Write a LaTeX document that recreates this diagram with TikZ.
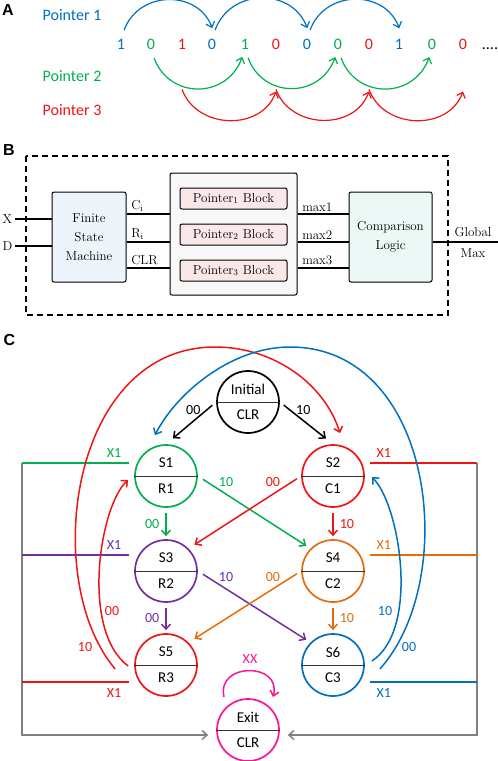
\documentclass[tikz,border=0pt]{standalone}
\usepackage{fontspec}
\newfontfamily\calib{Carlito}
\newfontfamily\panelfont{Liberation Sans}
\usetikzlibrary{arrows.meta}

\definecolor{pblue}{RGB}{0,112,192}
\definecolor{pgreen}{RGB}{0,176,80}
\definecolor{pred}{RGB}{240,20,20}
\definecolor{ppurple}{RGB}{112,48,160}
\definecolor{porange}{RGB}{228,108,10}
\definecolor{pmag}{RGB}{250,20,150}
\definecolor{fsmfill}{RGB}{238,244,251}
\definecolor{ptrfill}{RGB}{250,232,232}
\definecolor{cmpfill}{RGB}{235,248,245}
\definecolor{midfill}{RGB}{248,248,248}

\tikzset{
  panel/.style={font=\panelfont\fontsize{16}{16}\selectfont\bfseries, inner sep=0pt},
  digit/.style={font=\calib\fontsize{16}{16}\selectfont, inner sep=0pt},
  ptrlabel/.style={font=\calib\fontsize{16}{16}\selectfont, inner sep=0pt},
  seqarc/.style={line width=1.2pt, ->},
  blk/.style={draw, line width=1pt, rounded corners=2pt, align=center, font=\fontsize{13}{19}\selectfont},
  sig/.style={font=\fontsize{13}{13}\selectfont, inner sep=2pt},
  wire/.style={line width=1.5pt},
  st/.style={circle, draw, line width=1.7pt, minimum size=62pt, inner sep=0pt, fill=white},
  stxt/.style={font=\calib\fontsize{15}{15}\selectfont, inner sep=0pt},
  elab/.style={font=\calib\fontsize{14}{14}\selectfont, inner sep=1pt},
  tr/.style={->, line width=1.5pt},
}

\begin{document}
\begin{tikzpicture}[x=1pt, y=1pt, >={Straight Barb[length=5pt,width=9pt]}]
\useasboundingbox (0,0) rectangle (498,-761);

% ---- A: the three pointers
\node[panel] (pA) at (8,-10) {A};
\node[ptrlabel, pblue] (ptr1) at (72,-15) {Pointer 1};
\node[ptrlabel, pgreen] (ptr2) at (72,-76) {Pointer 2};
\node[ptrlabel, pred] (ptr3) at (72,-110) {Pointer 3};
\foreach \x/\d/\c [count=\i] in {121/1/pblue, 151/0/pgreen, 182/1/pred, 212/0/pblue, 245/1/pgreen, 276/0/pred,
                                 307/0/pblue, 338/0/pgreen, 369/0/pred, 399/1/pblue, 432/0/pgreen, 463/0/pred}
  \node[digit, text=\c] (d\i) at (\x,-44) {\d};
\node[digit] (dots) at (490,-49) {....};
\foreach \a/\b in {1/4, 4/7, 7/10}
  \draw[seqarc, pblue, shorten <=9pt, shorten >=11pt] (d\a.north) to[out=70, in=110, looseness=1.4] ([xshift=4pt]d\b.north);
\foreach \a/\b in {2/5, 5/8, 8/11}
  \draw[seqarc, pgreen, shorten <=9pt, shorten >=8pt] (d\a.south) to[out=-70, in=-110, looseness=1.45] (d\b.south);
\foreach \a/\b in {3/6, 6/9, 9/12}
  \draw[seqarc, pred] ([yshift=-40pt]d\a.south) to[out=-70, in=-110, looseness=1.16] ([yshift=-42pt]d\b.south);

% ---- B: block diagram
\node[panel] (pB) at (9,-150) {B};
\draw[line width=1.2pt, dash pattern=on 6pt off 4pt] (26,-156) rectangle (448,-315);
\node[blk, fill=fsmfill, minimum width=74pt, minimum height=90pt] (FSM) at (89,-237) {Finite\\State\\Machine};
\node[blk, fill=midfill, minimum width=127pt, minimum height=122pt] (mid) at (233.5,-234) {};
\foreach \k/\yy in {1/198.5, 2/234.5, 3/270.5}
  \node[blk, fill=ptrfill, minimum width=107pt, minimum height=21pt, inner sep=0pt] (blk\k) at (233.5,-\yy) {Pointer$_\k$ Block};
\node[blk, fill=cmpfill, minimum width=83pt, minimum height=90pt] (cmp) at (390.5,-237) {Comparison\\Logic};
\draw[wire] (15,-219) node[sig, left] (inX) {X} -- (FSM.west |- 0,-219);
\draw[wire] (15,-246) node[sig, left] (inD) {D} -- (FSM.west |- 0,-246);
\foreach \yy/\txt [count=\i] in {214/C$_\mathrm{i}$, 242/R$_\mathrm{i}$, 268/CLR}
  \draw[wire] (FSM.east |- 0,-\yy) node[sig, anchor=south west, xshift=2pt] (ctl\i) {\txt} -- (mid.west |- 0,-\yy);
\foreach \yy [count=\i] in {214, 242, 268}
  \draw[wire] (mid.east |- 0,-\yy) node[sig, anchor=south west, xshift=2pt] (mx\i) {max\i} -- (cmp.west |- 0,-\yy);
\draw[wire] (cmp.east |- 0,-242) -- (498,-242);
\node[blk, draw=none, fill=none, font=\fontsize{13}{21}\selectfont, inner sep=0pt] (gmax) at (473,-242) {Global\\Max};

% ---- C: state machine
\node[panel] (pC) at (9.5,-340) {C};
\coordinate (fl) at (22,-463);
\coordinate (fr) at (477,-463);
\foreach \n/\x/\y/\c/\t/\b in {Init/248/402/black/Initial/CLR, S1/166/476/pgreen/S1/R1, S2/333/476/pred/S2/C1,
                               S3/166/571/ppurple/S3/R2, S4/333/571/porange/S4/C2, S5/166/665/pred/S5/R3,
                               S6/333/665/pblue/S6/C3, Exit/248/730/pmag/Exit/CLR}{
  \node[st, draw=\c] (\n) at (\x,-\y) {};
  \draw[line width=0.8pt, black!80] (\n.west) -- (\n.east);
  \node[stxt] (\n-t) at ([yshift=13pt]\n.center) {\t};
  \node[stxt] (\n-b) at ([yshift=-13pt]\n.center) {\b};
}

% exit frame
\draw[tr, gray, shorten >=8pt] (fl) |- ([yshift=-5pt]Exit.west);
\draw[tr, gray, shorten >=8pt] (fr) |- ([yshift=-5pt]Exit.east);
\draw[wire, pgreen] ([xshift=-5pt,yshift=13pt]S1.west) -- node[elab, above=4pt, pos=0.14] (x1a) {X1} (fl);
\draw[wire, ppurple] ([xshift=-5pt,yshift=16pt]S3.west) -- node[elab, above=4pt, pos=0.14] (x1c) {X1} (22,-555);
\draw[wire, pred] ([xshift=-5pt,yshift=-17pt]S5.west) -- node[elab, below=5pt, pos=0.14] (x1e) {X1} (22,-682);
\draw[wire, pred] ([xshift=5pt,yshift=13pt]S2.east) -- node[elab, above=4pt, pos=0.13] (x1b) {X1} (fr);
\draw[wire, porange] ([xshift=5pt,yshift=16pt]S4.east) -- node[elab, above=4pt, pos=0.13] (x1d) {X1} (477,-555);
\draw[wire, pblue] ([xshift=5pt,yshift=-17pt]S6.east) -- node[elab, below=5pt, pos=0.13] (x1f) {X1} (477,-682);

% straight transitions
\draw[tr, shorten <=5pt, shorten >=9pt] (Init.west) -- node[elab, left=4pt, pos=0.2] (e01) {00} (S1.north);
\draw[tr, shorten <=5pt, shorten >=9pt] (Init.east) -- node[elab, right=4pt, pos=0.2] (e02) {10} (S2.north);
\draw[tr, pgreen, shorten <=5pt, shorten >=3pt] (S1.south) -- node[elab, left=5pt] (e13) {00} (S3.north);
\draw[tr, pred, shorten <=5pt, shorten >=3pt] (S2.south) -- node[elab, right=5pt] (e24) {10} (S4.north);
\draw[tr, ppurple, shorten <=5pt, shorten >=3pt] (S3.south) -- node[elab, left=5pt] (e35) {00} (S5.north);
\draw[tr, porange, shorten <=5pt, shorten >=3pt] (S4.south) -- node[elab, right=5pt] (e46) {10} (S6.north);
\draw[tr, pgreen, shorten <=6pt, shorten >=5pt] (S1.east) -- node[elab, above=6pt, pos=0.25] (e14) {10} (S4.135);
\draw[tr, pred, shorten <=5pt, shorten >=7pt] (S2.west) -- node[elab, above=6pt, pos=0.25] (e23) {00} (S3.45);
\draw[tr, ppurple, shorten <=6pt, shorten >=5pt] (S3.east) -- node[elab, above=6pt, pos=0.25] (e36) {10} (S6.135);
\draw[tr, porange, shorten <=5pt, shorten >=7pt] (S4.west) -- node[elab, above=6pt, pos=0.25] (e45) {00} (S5.45);

% curved transitions
\draw[tr, pred] ([xshift=-19pt,yshift=-4pt]S5.west) .. controls (40,-580) and (70,-347) .. (215,-347)
  .. controls (275,-347) and (325,-385) .. ([xshift=7pt,yshift=11pt]S2.north);
\draw[tr, pred] ([xshift=-6pt,yshift=-1pt]S5.west) .. controls (80,-630) and (100,-505) .. ([xshift=-6pt,yshift=-4pt]S1.west);
\draw[tr, pblue] ([xshift=15pt,yshift=-4pt]S6.east) .. controls (460,-580) and (435,-347) .. (290,-347)
  .. controls (230,-347) and (175,-395) .. ([xshift=-11pt,yshift=9pt]S1.north);
\draw[tr, pblue] ([xshift=7pt,yshift=4pt]S6.east) .. controls (420,-630) and (400,-505) .. ([xshift=7pt,yshift=-1pt]S2.east);
\node[elab, pred] (c51a) at (85,-647) {10};
\node[elab, pred] (c51b) at (112,-611) {00};
\node[elab, pblue] (c62a) at (385,-611) {10};
\node[elab, pblue] (c62b) at (409,-647) {00};

% exit self loop
\draw[tr, pmag] ([xshift=-24pt,yshift=33pt]Exit.center) .. controls (216,-662) and (282,-662) .. ([xshift=25pt,yshift=33pt]Exit.center);
\node[elab, pmag] (exx) at (250,-659) {XX};
\end{tikzpicture}
\end{document}
